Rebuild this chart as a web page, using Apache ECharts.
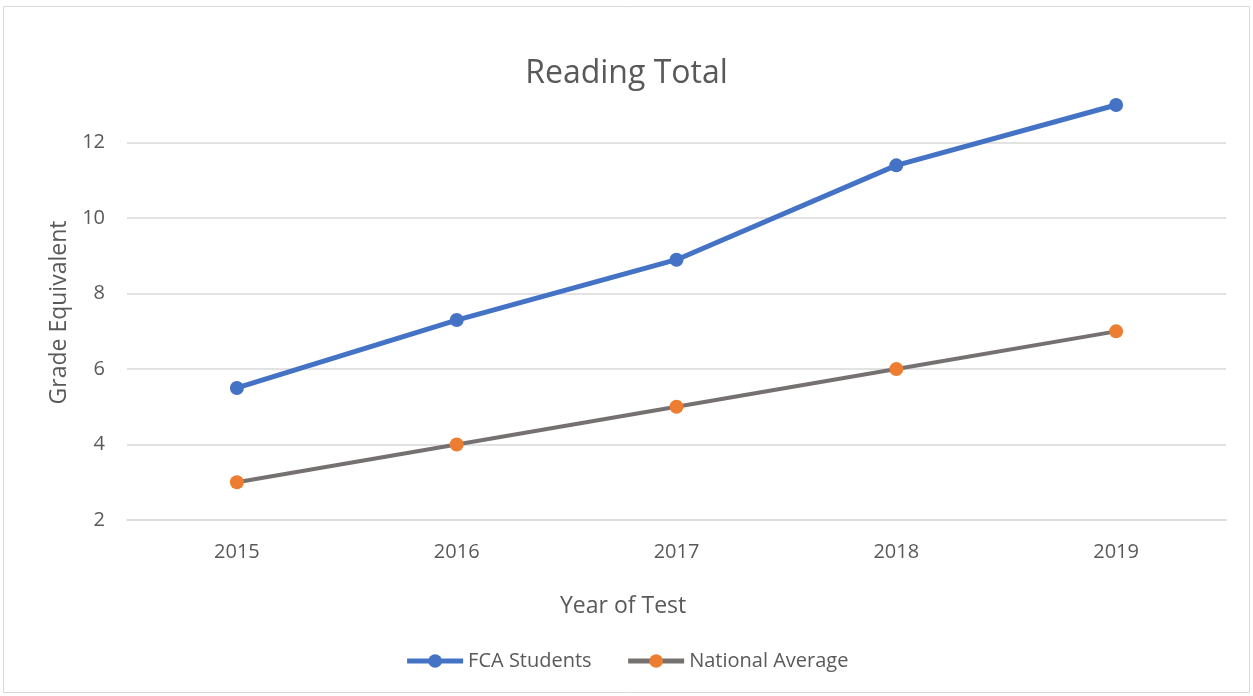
<!DOCTYPE html>
<html><head><meta charset="utf-8">
<script src="https://cdn.jsdelivr.net/npm/echarts@6/dist/echarts.min.js"></script>
<style>html,body{margin:0;padding:0;background:#fff}#c{width:1253px;height:696px}</style>
</head><body><div id="c"></div>
<script>
const years = ['2015','2016','2017','2018','2019'];
const fcaStudents = [5.5, 7.3, 8.9, 11.4, 13.0];
const nationalAverage = [3, 4, 5, 6, 7];
const seriesNames = ['FCA Students', 'National Average'];

const FONT = '"Open Sans", "Noto Sans", sans-serif';
const chart = echarts.init(document.getElementById('c'));
chart.setOption({
  backgroundColor: '#fff',
  animation: false,
  textStyle: { fontFamily: FONT },
  title: {
    text: 'Reading Total', left: 'center', top: 53,
    textStyle: { fontFamily: FONT, fontSize: 32, fontWeight: 'normal', color: '#595959' }
  },
  graphic: [
    { type: 'rect', shape: { x: 3.5, y: 6.5, width: 1246, height: 686 }, style: { fill: 'none', stroke: '#d9d9d9', lineWidth: 1 }, silent: true },
    { type: 'text', left: 560, top: 595, style: { text: 'Year of Test', font: '23px ' + FONT, fill: '#595959' } }
  ],
  legend: {
    bottom: 20, left: 'center', itemWidth: 56, itemHeight: 17, itemGap: 34,
    textStyle: { fontFamily: FONT, fontSize: 20, color: '#595959' },
    lineStyle: { width: 5 },
    data: seriesNames
  },
  grid: { left: 127, right: 27, top: 105, bottom: 176 },
  xAxis: {
    type: 'category', data: years, boundaryGap: true,
    axisLine: { lineStyle: { color: '#d9d9d9', width: 1.5 } },
    axisTick: { show: false },
    axisLabel: { color: '#595959', fontSize: 20, margin: 22, fontFamily: FONT }
  },
  yAxis: {
    type: 'value', min: 2, max: 13, interval: 2,
    name: 'Grade Equivalent', nameLocation: 'middle', nameGap: 56, nameRotate: 90,
    nameTextStyle: { color: '#595959', fontSize: 23, fontFamily: FONT },
    axisLine: { show: false }, axisTick: { show: false },
    axisLabel: { color: '#595959', fontSize: 20, margin: 22, fontFamily: FONT,
      formatter: v => (v % 2 === 0 ? String(v) : '') },
    splitLine: { lineStyle: { color: ['#d9d9d9','#d9d9d9','#d9d9d9','#d9d9d9','#d9d9d9','#d9d9d9','rgba(0,0,0,0)'], width: 1.5 } }
  },
  series: [
    { name: seriesNames[0], type: 'line', data: fcaStudents, symbol: 'circle', symbolSize: 14,
      lineStyle: { color: '#4472C4', width: 5 }, itemStyle: { color: '#4472C4' } },
    { name: seriesNames[1], type: 'line', data: nationalAverage, symbol: 'circle', symbolSize: 14,
      lineStyle: { color: '#767171', width: 4 }, itemStyle: { color: '#ED7D31' } }
  ]
});
</script></body></html>
